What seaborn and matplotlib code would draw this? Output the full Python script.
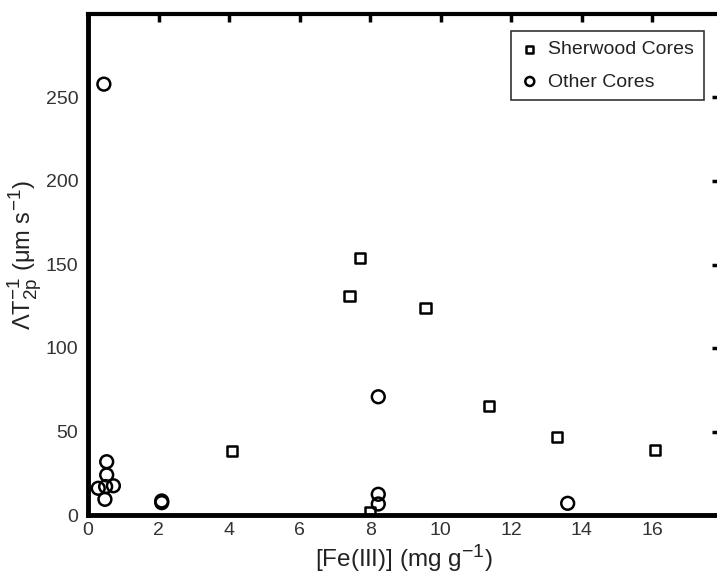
import matplotlib
matplotlib.use("Agg")
import matplotlib.pyplot as plt
import matplotlib._mathtext as _mt
import seaborn as sns
import pandas as pd

# Data
sherwood_fe = [4.09, 7.41, 7.71, 9.57, 11.37, 13.29, 16.08, 8.0]
sherwood_rate = [38.3, 131.0, 154.0, 124.0, 65.2, 46.5, 38.9, 2.0]
other_fe = [0.45, 0.53, 0.53, 0.29, 0.72, 0.48, 0.50, 2.09, 2.09, 8.23, 8.23, 8.23, 13.6]
other_rate = [258.0, 31.9, 24.0, 16.0, 17.5, 9.4, 17.0, 7.4, 8.4, 70.8, 12.4, 6.6, 7.0]
x_ticks = [0, 2, 4, 6, 8, 10, 12, 14, 16]
y_ticks = [0, 50, 100, 150, 200, 250]

sns.set_theme(style="white")
plt.rcParams['font.family'] = ['Liberation Sans', 'DejaVu Sans']
plt.rcParams['mathtext.fontset'] = 'custom'
plt.rcParams['mathtext.rm'] = 'Liberation Sans'
plt.rcParams['mathtext.it'] = 'Liberation Sans'
_mt.SHRINK_FACTOR = 0.8

df_s = pd.DataFrame({"fe": sherwood_fe, "rate": sherwood_rate})
df_o = pd.DataFrame({"fe": other_fe, "rate": other_rate})

fig = plt.figure(figsize=(7.17, 5.75), dpi=100)
ax = fig.add_axes([88/717, 60/575, (719-88)/717, (515-14)/575])

sns.scatterplot(data=df_s, x="fe", y="rate", marker="s", s=55,
                facecolors="none", edgecolors="black", linewidth=1.8,
                label="Sherwood Cores", ax=ax, zorder=3)
sns.scatterplot(data=df_o, x="fe", y="rate", marker="o", s=85,
                facecolors="none", edgecolors="black", linewidth=1.8,
                label="Other Cores", ax=ax, zorder=3)

ax.set_xlim(0, (719-88)/35.27)
ax.set_ylim(0, 300)
ax.set_xticks(x_ticks)
ax.set_yticks(y_ticks)
ax.tick_params(direction="in", length=8, width=2.5, labelsize=14,
               top=True, right=True, colors="black", labelcolor="#333333", pad=6)
ax.xaxis.set_tick_params(pad=5)
ax.yaxis.set_tick_params(which="major", length=9, pad=7)
for t in ax.xaxis.get_major_ticks():
    t.tick2line.set_markersize(6)
for t in ax.yaxis.get_major_ticks():
    t.tick2line.set_markersize(5)
for side in ["left", "bottom", "top"]:
    ax.spines[side].set_color("black")
ax.spines["right"].set_visible(False)
ax.spines["left"].set_linewidth(3.5)
ax.spines["bottom"].set_linewidth(3.5)
ax.spines["top"].set_linewidth(3.0)

ax.set_xlabel("[Fe(III)] (mg g$^{-1}$)", fontsize=17.5, color="#222222")
ax.set_ylabel(r"$\Lambda$T$^{-1}_{2p}$ (μm s$^{-1}$)", fontsize=17, color="#222222")
ax.xaxis.set_label_coords(0.5, -0.054)
ax.yaxis.set_label_coords(-0.07, 0.518)

leg = ax.legend(loc="upper right", bbox_to_anchor=(0.976, 0.966), fontsize=14,
                frameon=True, fancybox=False, edgecolor="black", markerscale=0.7,
                handletextpad=0.5, borderpad=0.5, handlelength=0.9,
                labelspacing=0.75, borderaxespad=0.0)
leg.get_frame().set_linewidth(1.2)
for t in leg.get_texts():
    t.set_color("#222222")

fig.savefig("out.png", dpi=100)
